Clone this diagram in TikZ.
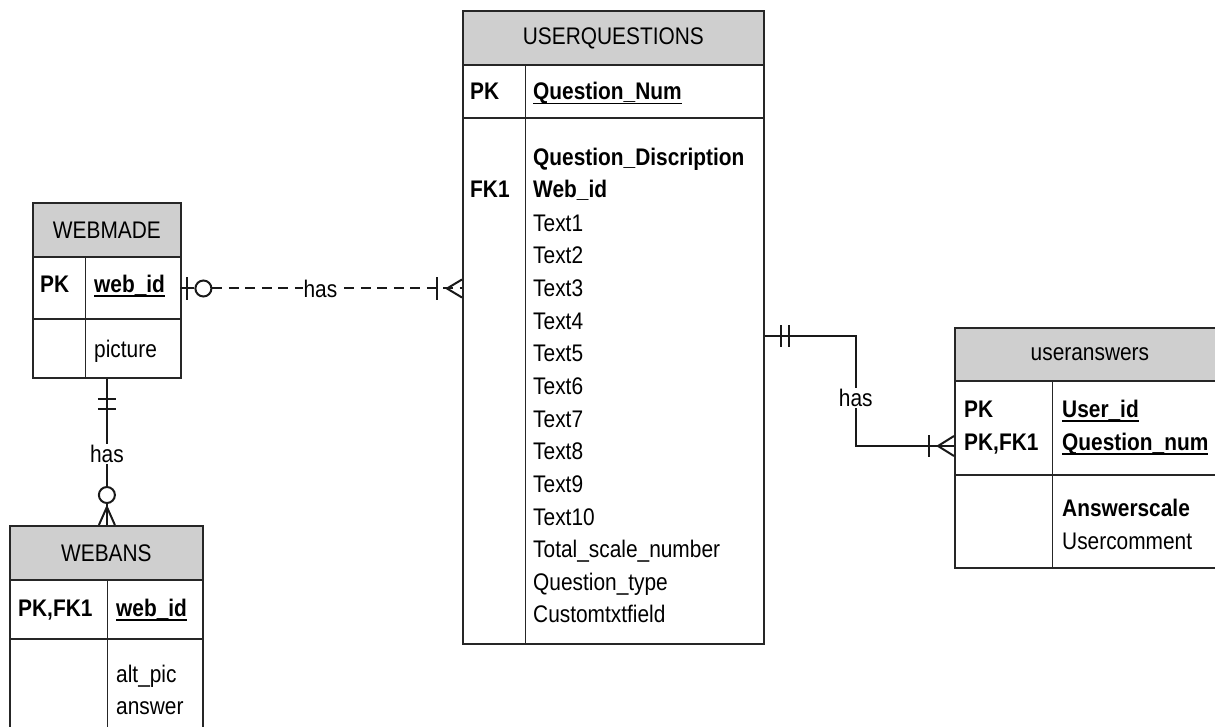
\documentclass[tikz,border=0pt]{standalone}
\usepackage{fontspec}
\setmainfont{Liberation Sans}[FakeStretch=0.87]
\usepackage{tikz}
\usetikzlibrary{calc,positioning,shapes}
\newcommand{\erfont}{\fontsize{24}{32.6}\selectfont}
\newcommand{\keyul}[1]{\setbox0\hbox{#1}\leavevmode\rlap{\rule[-4.5pt]{\wd0}{1.8pt}}\box0}
\tikzset{
    tbox/.style={
        rectangle,
        draw=black!85, line width=1.8pt,
        anchor=north west,
        inner sep=0pt
    },
    tpart/.style={rectangle, anchor=north west, inner sep=0pt},
    tline/.style={draw=black!85, line width=1.8pt},
    thead/.style={
        tbox,
        fill=black!19,
        font=\erfont
    },
    keytxt/.style={anchor=base west, inner sep=0pt, font=\erfont\bfseries},
    attr/.style={anchor=base west, inner sep=0pt, font=\erfont},
    battr/.style={anchor=base west, inner sep=0pt, font=\erfont\bfseries},
    er line/.style={draw=black!90, line width=2pt},
    er dash/.style={dash pattern=on 10pt off 6.5pt},
    er circle/.style={circle, draw=black!90, line width=2pt, fill=white,
        minimum size=16pt, inner sep=0pt},
    has label/.style={fill=white, inner sep=1pt, font=\erfont}
}

\begin{document}
\begin{tikzpicture}[x=1pt, y=-1pt]
    \useasboundingbox (0,0) rectangle (1215,727);

    % USERQUESTIONS
    \node[tbox, minimum width=301pt, minimum height=633pt] (uq) at (462,10) {};
    \node[thead, minimum width=301pt, minimum height=54pt] (uq head) at (uq.north west) {USERQUESTIONS};
    \node[tpart, minimum width=301pt, minimum height=52pt] (uq pk) at (uq head.south west) {};
    \node[tpart, minimum width=63pt, minimum height=579pt] (uq keys) at (uq head.south west) {};
    \draw[tline] (uq pk.south west) -- (uq pk.south east);
    \draw[tline] (uq keys.north east) -- (uq keys.south east);
    \node[keytxt] (uq key1) at (470,100) {PK};
    \node[keytxt] (uq key2) at (470,198) {FK1};
    \node[battr] (uq id) at (533,100) {\keyul{Question\_Num}};
    \node[battr] (uq attr0) at (533,166) {Question\_Discription};
    \node[battr] (uq attr1) at (533,198) {Web\_id};
    \foreach \i in {1,...,10}
        \node[attr] (uq text\i) at (533,{166+32.64*(\i+1)}) {Text\i};
    \foreach \txt [count=\i from 12] in {Total\_scale\_number,Question\_type,Customtxtfield}
        \node[attr] (uq attr\i) at (533,{166+32.64*\i}) {\txt};

    % WEBMADE
    \node[tbox, minimum width=148pt, minimum height=175pt] (wm) at (32,202) {};
    \node[thead, minimum width=148pt, minimum height=54pt] (wm head) at (wm.north west) {WEBMADE};
    \node[tpart, minimum width=148pt, minimum height=61pt] (wm pk) at (wm head.south west) {};
    \node[tpart, minimum width=53pt, minimum height=121pt] (wm keys) at (wm head.south west) {};
    \draw[tline] (wm pk.south west) -- (wm pk.south east);
    \draw[tline] (wm keys.north east) -- (wm keys.south east);
    \node[keytxt] (wm key1) at (40,292) {PK};
    \node[battr] (wm id) at (94,292) {\keyul{web\_id}};
    \node[attr] (wm attr1) at (94,357) {picture};

    % WEBANS
    \node[tbox, minimum width=193pt, minimum height=220pt] (wa) at (9,525) {};
    \node[thead, minimum width=193pt, minimum height=54pt] (wa head) at (wa.north west) {WEBANS};
    \node[tpart, minimum width=193pt, minimum height=58pt] (wa pk) at (wa head.south west) {};
    \node[tpart, minimum width=98pt, minimum height=166pt] (wa keys) at (wa head.south west) {};
    \draw[tline] (wa pk.south west) -- (wa pk.south east);
    \draw[tline] (wa keys.north east) -- (wa keys.south east);
    \node[keytxt] (wa key1) at (18,616) {PK,FK1};
    \node[battr] (wa id) at (116,616) {\keyul{web\_id}};
    \node[attr] (wa attr1) at (116,682) {alt\_pic};
    \node[attr] (wa attr2) at (116,714) {answer};

    % useranswers
    \node[tbox, minimum width=270pt, minimum height=240pt] (ua) at (954,327) {};
    \node[thead, minimum width=270pt, minimum height=53pt] (ua head) at (ua.north west) {useranswers};
    \node[tpart, minimum width=270pt, minimum height=93pt] (ua pk) at (ua head.south west) {};
    \node[tpart, minimum width=98pt, minimum height=187pt] (ua keys) at (ua head.south west) {};
    \draw[tline] (ua pk.south west) -- (ua pk.south east);
    \draw[tline] (ua keys.north east) -- (ua keys.south east);
    \node[keytxt] (ua key1) at (964,417) {PK};
    \node[keytxt] (ua key2) at (964,450) {PK,FK1};
    \node[battr] (ua id1) at (1062,417) {\keyul{User\_id}};
    \node[battr] (ua id2) at (1062,450) {\keyul{Question\_num}};
    \node[battr] (ua attr1) at (1062,516) {Answerscale};
    \node[attr] (ua attr2) at (1062,549) {Usercomment};

    % WEBMADE -- USERQUESTIONS
    \node[er circle] (wm opt) at ($(wm pk.east)+(23,0)$) {};
    \draw[er line] (wm pk.east) -- (wm opt.west);
    \draw[er line, er dash] (wm opt.east) -- (uq.west |- wm opt);
    \draw[er line] ($(wm pk.east)+(7,-11)$) -- ++(0,22);
    \draw[er line] ($(uq.west |- wm opt)+(-25,-11)$) -- ++(0,22);
    \draw[er line] ($(uq.west |- wm opt)+(0,-9)$) -- ++(-15,9) -- ++(15,9);
    \node[has label] (has1) at ($(wm pk.east)+(140,0)$) {has};

    % WEBMADE -- WEBANS
    \node[er circle] (wa opt) at ($(wm.south |- wa.north)+(0,-30)$) {};
    \draw[er line] (wm.south) -- (wa opt.north);
    \draw[er line] (wa opt.south) -- (wm.south |- wa.north);
    \draw[er line] ($(wm.south)+(-9,20)$) -- ++(18,0);
    \draw[er line] ($(wm.south)+(-9,30)$) -- ++(18,0);
    \draw[er line] ($(wm.south |- wa.north)+(-8,0)$) -- ++(8,-18) -- ++(8,18);
    \node[has label] (has2) at ($(wm.south)+(0,75)$) {has};

    % USERQUESTIONS -- useranswers
    \coordinate (uq out) at ($(uq.north east)+(0,326)$);
    \coordinate (ua in) at ($(ua.north west)+(0,119)$);
    \draw[er line] (uq out) -| ($(uq out)+(91,55)$) |- (ua in);
    \draw[er line] ($(uq out)+(16,-11)$) -- ++(0,22);
    \draw[er line] ($(uq out)+(24,-11)$) -- ++(0,22);
    \draw[er line] ($(ua in)+(-25,-11)$) -- ++(0,22);
    \draw[er line] ($(ua in)+(0,-10)$) -- ++(-16,10) -- ++(16,10);
    \node[has label] (has3) at ($(uq out)+(91,62)$) {has};
\end{tikzpicture}
\end{document}
